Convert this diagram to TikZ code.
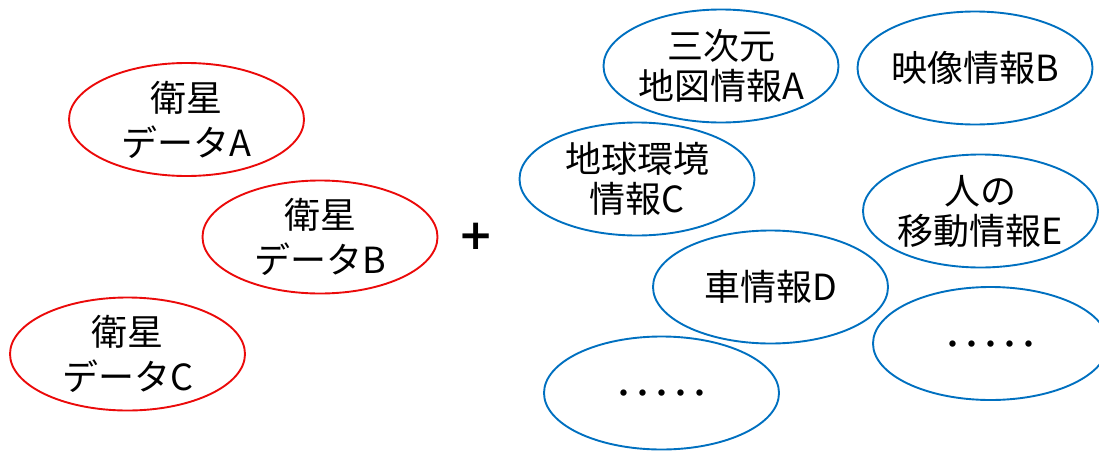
\documentclass[tikz,border=0pt]{standalone}
\usepackage{fontspec}
\setmainfont{Noto Sans CJK JP}
\newfontfamily\plusfont{DejaVu Sans}
\usetikzlibrary{shapes.geometric}
\definecolor{ellred}{RGB}{235,10,10}
\definecolor{ellblue}{RGB}{0,112,192}
\begin{document}
\begin{tikzpicture}[x=1pt,y=-1pt,
  ell/.style={ellipse, draw, line width=1.9pt, minimum width=235pt, minimum height=113pt, inner sep=0pt},
  redell/.style={ell, draw=ellred},
  blueell/.style={ell, draw=ellblue},
  redlbl/.style={align=center, inner sep=0pt, font=\fontsize{36}{45}\selectfont},
  bluelbl/.style={align=center, inner sep=0pt, font=\fontsize{36}{40}\selectfont},
  dotlbl/.style={inner sep=0pt, yshift=-6pt, font=\fontsize{38}{40}\selectfont}]
\useasboundingbox (0,0) rectangle (1099,450);
% red ellipses
\node[redell] (sa) at (186.5,119.5) {};
\node[redlbl] (sat) at (sa) {衛星\\データA};
\node[redell] (sb) at (320,237) {};
\node[redlbl] (sbt) at (sb) {衛星\\データB};
\node[redell] (sc) at (127.5,354) {};
\node[redlbl] (sct) at (sc) {衛星\\データC};
% plus
\node[inner sep=0pt, font=\plusfont\bfseries\fontsize{42}{42}\selectfont] (plus) at (476,236) {+};
% blue ellipses
\node[blueell] (ia) at (721,66) {};
\node[bluelbl] (iat) at (ia) {三次元\\地図情報A};
\node[blueell] (ib) at (975,68) {};
\node[bluelbl] (ibt) at (ib) {映像情報B};
\node[blueell] (ic) at (637,179) {};
\node[bluelbl] (ict) at (ic) {地球環境\\情報C};
\node[blueell] (ie) at (980.5,211) {};
\node[bluelbl] (iet) at (ie) {人の\\移動情報E};
\node[blueell] (id) at (770.5,287) {};
\node[bluelbl] (idt) at (id) {車情報D};
\node[blueell] (ix) at (990.5,343.5) {};
\node[dotlbl] (ixt) at (ix) {･････};
\node[blueell] (iy) at (661.5,393) {};
\node[dotlbl] (iyt) at (iy) {･････};
\end{tikzpicture}
\end{document}
